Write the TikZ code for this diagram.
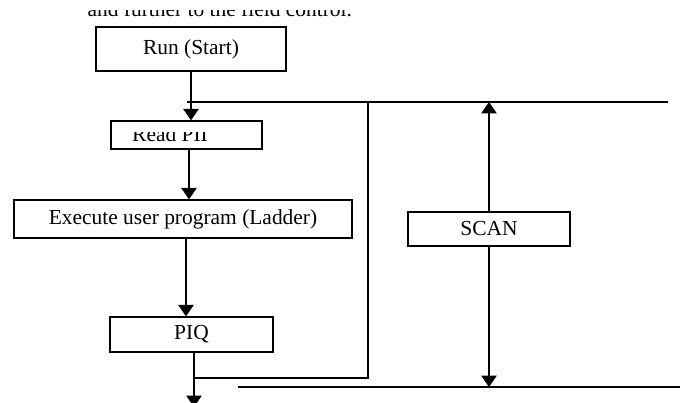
\documentclass[tikz,border=0pt]{standalone}
\usepackage{fontspec}
\setmainfont{Liberation Serif}
\usetikzlibrary{arrows.meta}
\begin{document}
\begin{tikzpicture}
[x=0.02cm,y=-0.02cm,>={Triangle[width=0.31cm,length=0.23cm]},line width=0.75pt,
box/.style = {draw, fill=white, inner sep=0pt, font=\fontsize{12.2}{14}\selectfont},]

\useasboundingbox (0,0) rectangle (685,402);
\begin{scope}
\clip (0,10.5) rectangle (685,30);
\node (intro) at (87,17)[anchor=base west,inner sep=0pt,font=\fontsize{12.2}{14}\selectfont] {and further to the field control.};
\end{scope}
\node (run) at (191,49)[box,minimum width=3.8cm,minimum height=0.88cm] {Run (Start)};
\node (read) at (186.5,135)[box,minimum width=3.02cm,minimum height=0.56cm] {};
\begin{scope}
\clip (120,132.5) rectangle (250,148);
\node (readtxt) at (170,141.5)[anchor=base,inner sep=0pt,font=\fontsize{12.2}{14}\selectfont] {Read PII};
\end{scope}
\node (exec) at (183,219)[box,minimum width=6.76cm,minimum height=0.76cm] {Execute user program (Ladder)};
\node (piq) at (191.5,334.5)[box,minimum width=3.26cm,minimum height=0.7cm] {PIQ};
\node (scan) at (489,229)[box,minimum width=3.24cm,minimum height=0.68cm] {SCAN};
\coordinate (topL) at (187,102);
\coordinate (topR) at (668,102);
\coordinate (loopB) at (194,378);
\coordinate (loopC) at (368,378);
\coordinate (loopT) at (368,102);
\coordinate (botL) at (238,387);
\coordinate (botR) at (680,387);
\coordinate (out) at (194,407);
\draw (topL)--(topR);
\draw (loopB)--(loopC)--(loopT);
\draw (botL)--(botR);
\draw[->] (run.south-|191,0)--(read.north-|191,0);
\draw[->] (read.south-|189,0)--(exec.north-|189,0);
\draw[->] (exec.south-|186,0)--(piq.north-|186,0);
\draw[->] (piq.south-|194,0)--(out);
\draw[->] (scan.north)--(scan.north|-topR);
\draw[->] (scan.south)--(scan.south|-botR);
\end{tikzpicture}
\end{document}
